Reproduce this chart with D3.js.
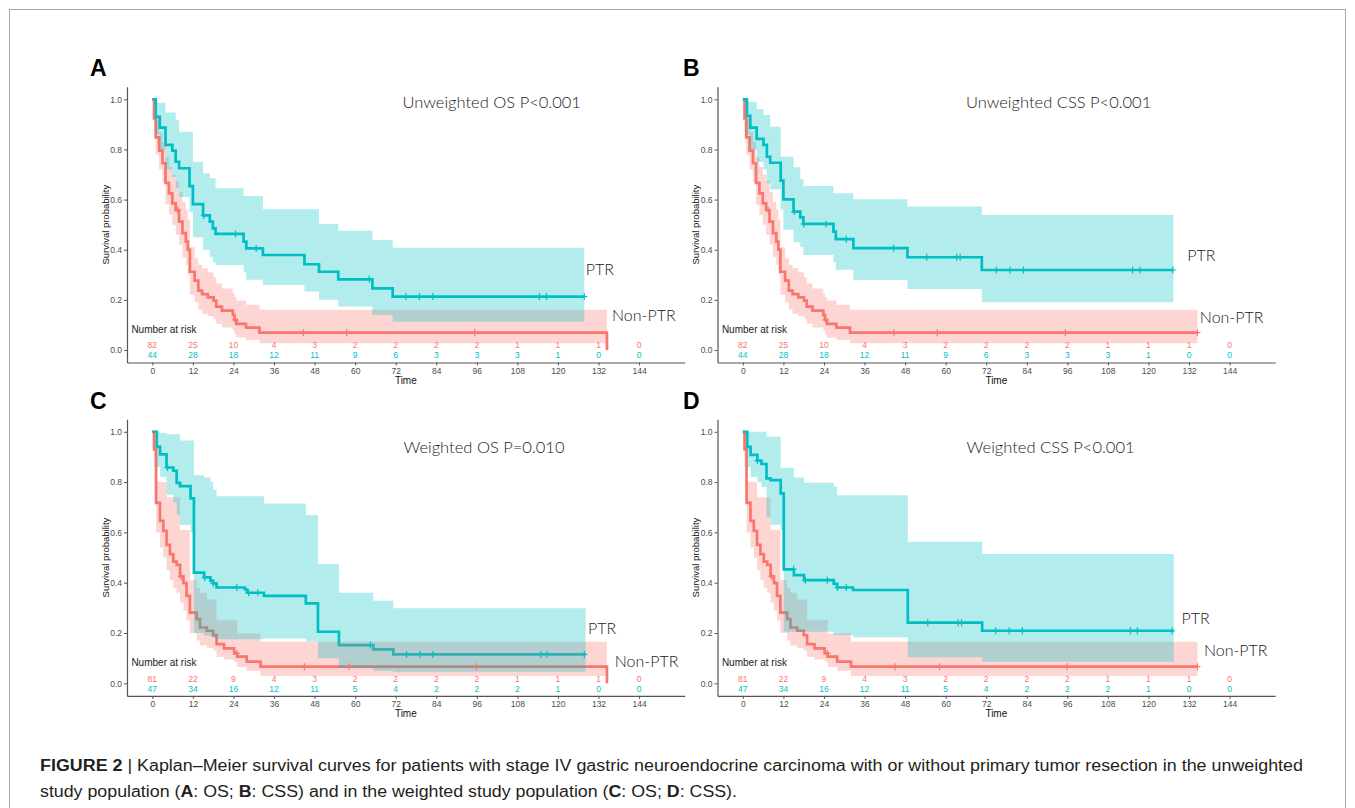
<!DOCTYPE html>
<html><head><meta charset="utf-8">
<script src="https://cdn.jsdelivr.net/npm/d3@7"></script>
<style>body{margin:0;background:#fff} svg{display:block}</style>
</head><body><svg id="c" width="1355" height="808"></svg>
<script>
// ---------- DATA ----------
const timeTicks = [0,12,24,36,48,60,72,84,96,108,120,132,144];
const survTicks = [0,0.2,0.4,0.6,0.8,1.0];
const panelLetters = ["A","B","C","D"];
const panelTitles = ["Unweighted OS P<0.001","Unweighted CSS P<0.001","Weighted OS P=0.010","Weighted CSS P<0.001"];
const groupNames = ["Non-PTR","PTR"];

// Kaplan-Meier steps: [time, survival]; bands: [time, lower, upper]
const A_ptrLine = [[0,1],[1,0.93],[2.2,0.887],[3.9,0.818],[5.9,0.795],[6.9,0.751],[7.9,0.725],[11,0.654],[12,0.582],[15,0.537],[17,0.512],[17.9,0.485],[18.7,0.463],[27,0.432],[27.8,0.405],[32.7,0.379],[45,0.342],[49.3,0.312],[55,0.282],[65.1,0.246],[71.1,0.213],[127.8,0.213]];
const A_ptrBand = [[0,1,1],[1,0.86,0.986],[2.2,0.80,0.986],[3.9,0.72,0.947],[5.9,0.69,0.947],[6.9,0.645,0.917],[7.9,0.61,0.871],[11,0.55,0.871],[12,0.45,0.751],[15,0.40,0.705],[17,0.372,0.685],[17.9,0.35,0.685],[18.7,0.339,0.645],[27,0.31,0.614],[27.8,0.28,0.614],[32.7,0.259,0.561],[45,0.233,0.561],[49.3,0.2,0.503],[55,0.173,0.476],[65.1,0.14,0.439],[71.1,0.113,0.408],[127.8,0.113,0.408]];
const A_ptrCensor = [15.2,24.6,30.7,64.2,75,79,83,114.5,116.6,127.8];

const A_nonLine = [[0,1],[0.5,0.924],[1,0.848],[2,0.795],[3,0.745],[3.9,0.667],[4.9,0.625],[5.9,0.585],[6.9,0.558],[7.9,0.512],[8.9,0.466],[9.9,0.432],[10.5,0.4],[11.1,0.312],[12.5,0.277],[13.6,0.237],[14.7,0.223],[16.4,0.21],[18.1,0.197],[18.9,0.173],[20.6,0.157],[23.8,0.14],[24.3,0.12],[24.9,0.104],[27.7,0.089],[31.7,0.069],[134.5,0.069]];
const A_nonBand = [[0,1,1],[0.5,0.87,0.98],[1,0.78,0.92],[2,0.72,0.87],[3,0.67,0.83],[3.9,0.58,0.77],[4.9,0.54,0.73],[5.9,0.50,0.70],[6.9,0.46,0.675],[7.9,0.42,0.63],[8.9,0.37,0.59],[9.9,0.34,0.56],[10.5,0.30,0.52],[11.1,0.22,0.41],[12.5,0.19,0.366],[13.6,0.16,0.34],[14.7,0.145,0.326],[16.4,0.135,0.31],[18.1,0.125,0.29],[18.9,0.105,0.265],[20.6,0.09,0.245],[23.8,0.078,0.225],[24.3,0.062,0.21],[24.9,0.05,0.197],[27.7,0.04,0.18],[31.7,0.027,0.16],[134.5,0.027,0.16]];
const A_nonCensor = [7.5,24.5,44.7,57.5,95.4];

const B_ptrLine = [[0,1],[1.2,0.934],[2.2,0.887],[4.1,0.842],[6.1,0.818],[7.1,0.771],[8.1,0.747],[11.2,0.676],[12,0.601],[15,0.552],[17,0.529],[17.9,0.503],[26.8,0.472],[27.5,0.442],[32.7,0.406],[48.7,0.370],[70.7,0.319],[127.4,0.319]];
const B_ptrBand = [[0,1,1],[1.2,0.86,0.99],[2.2,0.80,0.99],[4.1,0.75,0.96],[6.1,0.72,0.937],[7.1,0.665,0.937],[8.1,0.64,0.891],[11.2,0.56,0.771],[12,0.48,0.771],[15,0.43,0.729],[17,0.41,0.681],[17.9,0.379,0.654],[26.8,0.35,0.625],[27.5,0.32,0.625],[32.7,0.279,0.601],[48.7,0.243,0.572],[70.7,0.19,0.539],[127.4,0.19,0.539]];
const B_ptrCensor = [15.2,18,24.6,30.6,44.6,54.4,63.3,64.3,75,79,83,115.3,117.5,127.2];
const B_nonCensor = [7.5,24.5,44.7,57.5,95.4,134.5];

const C_ptrLine = [[0,1],[1.3,0.94],[2.3,0.91],[4.2,0.858],[6.2,0.845],[7.2,0.797],[8.2,0.784],[11.3,0.735],[12.3,0.44],[15.3,0.421],[17.2,0.408],[18,0.397],[19,0.381],[27.4,0.373],[28,0.36],[33,0.348],[45.4,0.318],[49,0.205],[55.2,0.152],[65.4,0.135],[71.3,0.115],[128.2,0.115]];
const C_ptrBand = [[0,1,1],[1.3,0.86,1],[2.3,0.82,0.995],[4.2,0.75,0.99],[6.2,0.72,0.99],[7.2,0.67,0.99],[8.2,0.629,0.965],[11.3,0.6,0.965],[12.3,0.2,0.827],[15.3,0.19,0.818],[17.2,0.185,0.80],[18,0.18,0.77],[19,0.175,0.744],[33,0.178,0.715],[45.4,0.166,0.669],[49,0.10,0.474],[55.2,0.06,0.36],[65.4,0.05,0.328],[71.3,0.046,0.298],[128.2,0.046,0.298]];
const C_ptrCensor = [4.5,15.5,18,25,28.5,31.2,64.5,75.2,79.1,83,114.9,116.7,127.8];

const C_nonLine = [[0,1],[0.5,0.93],[1.1,0.717],[2.25,0.646],[3.24,0.606],[4.2,0.55],[5.2,0.514],[6.2,0.484],[7.2,0.471],[8.2,0.425],[9.2,0.398],[10.1,0.348],[11.1,0.281],[13.1,0.255],[14.1,0.222],[16.1,0.209],[18,0.192],[19,0.156],[21.2,0.139],[24.2,0.119],[25.1,0.106],[27.9,0.086],[32,0.066],[134.5,0.066]];
const C_nonBand = [[0,1,1],[0.5,0.86,1],[1.1,0.60,0.80],[2.25,0.54,0.80],[3.24,0.50,0.80],[4.2,0.45,0.74],[5.2,0.41,0.74],[6.2,0.38,0.74],[7.2,0.36,0.74],[8.2,0.32,0.61],[9.2,0.29,0.61],[10.1,0.25,0.61],[11.1,0.2,0.41],[13.1,0.17,0.38],[14.1,0.15,0.36],[16.1,0.14,0.333],[18,0.13,0.333],[19,0.105,0.251],[21.2,0.095,0.251],[24.2,0.085,0.251],[25.1,0.065,0.198],[27.9,0.05,0.198],[32,0.029,0.165],[134.5,0.029,0.165]];
const C_nonCensor = [8.5,25,45,58.2,95.9];

const D_ptrLine = [[0,1],[1.3,0.94],[2.3,0.908],[4.3,0.885],[5.5,0.872],[7,0.815],[8.2,0.808],[11.2,0.755],[12.1,0.453],[15.1,0.43],[18.1,0.41],[26.9,0.395],[27.9,0.381],[32.6,0.371],[48.8,0.241],[70.8,0.209],[127.5,0.209]];
const D_ptrBand = [[0,1,1],[1.3,0.86,1],[2.3,0.82,1],[4.3,0.80,1],[5.5,0.78,1],[7,0.66,0.98],[8.2,0.63,0.98],[11.2,0.61,0.857],[12.1,0.205,0.857],[15.1,0.205,0.818],[18.1,0.205,0.797],[26.9,0.192,0.781],[27.9,0.192,0.748],[32.6,0.183,0.748],[48.8,0.104,0.563],[70.8,0.086,0.514],[127.5,0.086,0.514]];
const D_ptrCensor = [4.3,15,18.5,25,28,30.6,54.7,63.7,64.7,74.8,78.8,82.7,114.7,116.7,127];
const D_nonCensor = [8.5,25,45,58.2,95.9,134.5];

// numbers at risk
const A_riskNon = [82,25,10,4,3,2,2,2,2,1,1,1,0];
const A_riskPtr = [44,28,18,12,11,9,6,3,3,3,1,0,0];
const C_riskNon = [81,22,9,4,3,2,2,2,2,1,1,1,0];
const C_riskPtr = [47,34,16,12,11,5,4,2,2,2,1,0,0];

// label anchors [time, survival]
const titlePos = [[74,0.99],[66,0.99],[74.3,0.94],[66.2,0.94]];
const ptrLabelPos = [[128.2,0.32],[131.5,0.379],[128.9,0.219],[129.8,0.26]];
const nonLabelPos = [[136,0.136],[135.2,0.13],[136.8,0.086],[136.4,0.13]];
const nonDropsToZero = [true,false,true,false];

// ---------- LAYOUT ----------
const svg = d3.select("#c");
const COL_NON = "#F8766D", COL_PTR = "#00BFC4";
const panels = [
  {left:127, top:86.8, h:275.7, letterX:90, letterY:76, ptrLine:A_ptrLine, ptrBand:A_ptrBand, ptrCensor:A_ptrCensor, nonLine:A_nonLine, nonBand:A_nonBand, nonCensor:A_nonCensor, riskNon:A_riskNon, riskPtr:A_riskPtr},
  {left:717.5, top:86.8, h:275.7, letterX:683, letterY:76, ptrLine:B_ptrLine, ptrBand:B_ptrBand, ptrCensor:B_ptrCensor, nonLine:A_nonLine, nonBand:A_nonBand, nonCensor:B_nonCensor, riskNon:A_riskNon, riskPtr:A_riskPtr},
  {left:127, top:419.2, h:276.7, letterX:90, letterY:408.5, ptrLine:C_ptrLine, ptrBand:C_ptrBand, ptrCensor:C_ptrCensor, nonLine:C_nonLine, nonBand:C_nonBand, nonCensor:C_nonCensor, riskNon:C_riskNon, riskPtr:C_riskPtr},
  {left:717.5, top:419.2, h:276.7, letterX:683, letterY:408.5, ptrLine:D_ptrLine, ptrBand:D_ptrBand, ptrCensor:D_ptrCensor, nonLine:C_nonLine, nonBand:C_nonBand, nonCensor:D_nonCensor, riskNon:C_riskNon, riskPtr:C_riskPtr}
];
const W = 557.7;
const sans = "'Liberation Sans', Arial, sans-serif";
const lightFont = "Lato, 'Noto Sans', sans-serif";

// frame
svg.append("rect").attr("x",9.5).attr("y",9.5).attr("width",1336).attr("height",830)
  .attr("fill","none").attr("stroke","#a6a6a6").attr("stroke-width",1);

panels.forEach((p,i)=>{
  const x = d3.scaleLinear().domain([-7.5,157.5]).range([p.left,p.left+W]);
  const y = d3.scaleLinear().domain([-0.05,1.05]).range([p.top+p.h,p.top]);
  const g = svg.append("g");

  // letter
  svg.append("text").attr("x",p.letterX).attr("y",p.letterY).text(panelLetters[i])
    .attr("font-family",sans).attr("font-weight","bold").attr("font-size",23).attr("fill","#000");

  const line = d3.line().x(d=>x(d[0])).y(d=>y(d[1])).curve(d3.curveStepAfter);
  const area = d3.area().x(d=>x(d[0])).y0(d=>y(d[1])).y1(d=>y(d[2])).curve(d3.curveStepAfter);

  const nonLineData = nonDropsToZero[i] ? p.nonLine.concat([[p.nonLine[p.nonLine.length-1][0],0]]) : p.nonLine;
  g.append("path").attr("d",line(nonLineData)).attr("fill","none").attr("stroke",COL_NON).attr("stroke-width",2.7);
  g.append("path").attr("d",line(p.ptrLine)).attr("fill","none").attr("stroke",COL_PTR).attr("stroke-width",2.7);
  g.append("path").attr("d",area(p.nonBand)).attr("fill",COL_NON).attr("fill-opacity",0.3);
  g.append("path").attr("d",area(p.ptrBand)).attr("fill",COL_PTR).attr("fill-opacity",0.3);

  const stepVal = (arr,t)=>{ let v=arr[0][1]; for(const d of arr){ if(d[0]<=t) v=d[1]; } return v; };
  const censor = (times,arr,col)=>{
    times.forEach(t=>{
      const cx=x(t), cy=y(stepVal(arr,t));
      g.append("path").attr("d",`M${cx-3},${cy}H${cx+3}M${cx},${cy-3.5}V${cy+3.5}`)
        .attr("stroke",col).attr("stroke-width",1.2).attr("fill","none");
    });
  };
  censor(p.nonCensor,p.nonLine,COL_NON);
  censor(p.ptrCensor,p.ptrLine,COL_PTR);

  // axes
  const xAxis = d3.axisBottom(x).tickValues(timeTicks).tickSize(3).tickSizeOuter(0).tickPadding(2);
  const yAxis = d3.axisLeft(y).tickValues(survTicks).tickFormat(d3.format(".1f")).tickSize(3).tickSizeOuter(0).tickPadding(2);
  const ga = svg.append("g").attr("transform",`translate(0,${p.top+p.h})`).call(xAxis);
  const gy = svg.append("g").attr("transform",`translate(${p.left},0)`).call(yAxis);
  [ga,gy].forEach(a=>{
    a.select(".domain").attr("stroke","#555").attr("stroke-width",1.2);
    a.selectAll(".tick line").attr("stroke","#555").attr("stroke-width",1);
    a.selectAll(".tick text").attr("fill","#4d4d4d").attr("font-size",8.5).attr("font-family",sans);
  });
  svg.append("text").attr("x",p.left+W/2).attr("y",p.top+p.h+21.5).attr("text-anchor","middle")
    .attr("font-family",sans).attr("font-size",10).attr("fill","#111").text("Time");
  svg.append("text").attr("transform",`translate(${p.left-18.5},${p.top+p.h/2}) rotate(-90)`).attr("text-anchor","middle")
    .attr("font-family",sans).attr("font-size",9.5).attr("fill","#111").text("Survival probability");

  // risk table inside plot
  svg.append("text").attr("x",x(-6.2)).attr("y",y(0.083)).attr("dy","0.35em")
    .attr("font-family",sans).attr("font-size",10).attr("fill","#222").text("Number at risk");
  timeTicks.forEach((t,k)=>{
    svg.append("text").attr("x",x(t)).attr("y",y(0.018)).attr("dy","0.35em").attr("text-anchor","middle")
      .attr("font-family",sans).attr("font-size",8.5).attr("fill",COL_NON).text(p.riskNon[k]);
    svg.append("text").attr("x",x(t)).attr("y",y(-0.021)).attr("dy","0.35em").attr("text-anchor","middle")
      .attr("font-family",sans).attr("font-size",8.5).attr("fill",COL_PTR).text(p.riskPtr[k]);
  });

  // annotations
  svg.append("text").attr("x",x(titlePos[i][0])).attr("y",y(titlePos[i][1])).attr("dy","0.35em")
    .attr("font-family",lightFont).attr("font-weight",300).attr("font-size",16.5).attr("fill","#1a1a1a").text(panelTitles[i]);
  svg.append("text").attr("x",x(ptrLabelPos[i][0])).attr("y",y(ptrLabelPos[i][1])).attr("dy","0.35em")
    .attr("font-family",lightFont).attr("font-weight",300).attr("font-size",16).attr("fill","#1a1a1a").text(groupNames[1]);
  svg.append("text").attr("x",x(nonLabelPos[i][0])).attr("y",y(nonLabelPos[i][1])).attr("dy","0.35em")
    .attr("font-family",lightFont).attr("font-weight",300).attr("font-size",16).attr("fill","#1a1a1a").text(groupNames[0]);
});

// caption
const cap = svg.append("g").attr("font-family","'Liberation Sans Narrow', 'Liberation Sans', Arial, sans-serif").attr("font-size",16).attr("fill","#231f20");
const l1 = cap.append("text").attr("x",40).attr("y",771).attr("textLength",1263).attr("lengthAdjust","spacingAndGlyphs");
l1.append("tspan").attr("font-weight","bold").text("FIGURE 2");
l1.append("tspan").text(" | Kaplan–Meier survival curves for patients with stage IV gastric neuroendocrine carcinoma with or without primary tumor resection in the unweighted");
const l2 = cap.append("text").attr("x",40).attr("y",797).attr("textLength",697).attr("lengthAdjust","spacingAndGlyphs");
[["study population (",0],["A",1],[": OS; ",0],["B",1],[": CSS) and in the weighted study population (",0],["C",1],[": OS; ",0],["D",1],[": CSS).",0]]
  .forEach(s=>l2.append("tspan").attr("font-weight",s[1]?"bold":"normal").text(s[0]));
</script></body></html>
